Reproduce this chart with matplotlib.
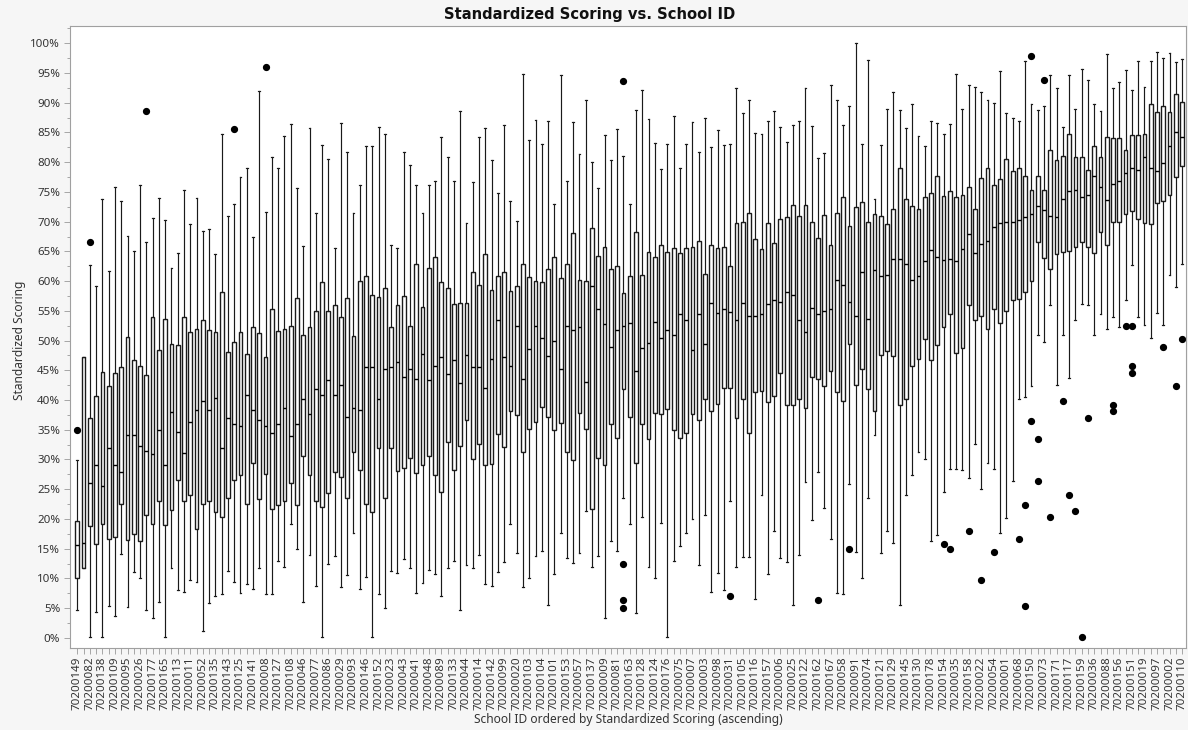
import matplotlib
matplotlib.use("Agg")
import matplotlib.pyplot as plt
from matplotlib.ticker import FuncFormatter, MultipleLocator

# ---- data (percent) ----
whisker_high = [29.9,47.2,62.7,59.1,73.8,61.7,75.9,73.5,67.6,65.1,76.1,66.5,70.6,73.9,70.3,62.2,64.7,75.3,69.6,74.0,
 68.4,68.8,64.5,84.8,71.0,73.0,77.5,79.1,67.4,92.0,71.6,80.8,79.1,84.4,86.4,75.6,65.9,85.7,71.5,82.9,
 80.5,65.6,86.6,81.7,71.5,76.1,82.8,82.8,85.9,84.8,66.1,65.6,81.7,79.6,76.1,71.5,76.1,76.9,84.3,80.8,
 76.9,88.6,69.8,76.7,84.3,85.7,80.3,74.8,86.2,73.5,70.1,94.9,83.7,87.1,83.1,86.9,73.0,94.7,76.9,86.8,
 81.4,90.4,80.1,75.7,84.6,80.3,85.6,81.1,73.0,88.7,92.2,87.2,83.3,78.8,83.1,87.7,79.1,83.1,86.8,81.7,
 87.4,82.5,85.4,82.9,83.1,92.4,88.2,90.4,84.9,84.7,86.9,88.6,85.9,83.4,86.2,86.9,92.4,86.1,80.7,81.6,
 93.0,90.4,86.2,89.4,100.0,83.1,97.2,73.8,82.9,88.9,91.8,88.7,85.7,89.8,84.4,82.8,87.0,86.6,84.8,86.4,
 94.9,88.9,92.9,92.6,91.8,90.4,89.9,95.4,88.2,87.4,87.0,97.0,89.8,88.7,89.4,94.6,92.4,85.9,94.7,88.9,
 95.7,93.8,89.7,88.6,98.2,92.4,93.4,95.5,92.2,97.0,92.7,97.0,98.5,97.5,98.3,96.9,97.3]
q3 = [19.6,47.2,37.0,40.6,44.7,42.4,44.6,45.6,50.6,46.7,45.8,44.2,53.9,48.4,53.6,49.5,49.2,53.9,51.4,51.9,
 53.4,51.7,51.4,58.2,48.0,49.7,51.4,47.8,52.2,51.2,47.3,55.3,51.6,51.9,52.5,57.1,50.9,52.2,54.9,59.9,
 54.9,55.9,54.0,57.1,50.7,60.0,60.9,57.7,57.3,58.9,52.2,55.9,57.5,52.5,62.9,55.7,62.2,64.1,59.9,58.9,
 56.1,56.3,56.3,61.5,59.3,64.5,58.5,60.9,61.5,58.3,59.2,62.9,60.7,60.1,59.9,62.0,64.0,60.5,62.9,68.1,
 60.2,60.0,69.0,64.3,65.8,62.0,62.5,58.0,60.9,68.2,61.0,64.9,64.1,66.0,64.9,65.6,64.7,65.6,65.8,66.8,
 61.2,66.0,65.5,65.8,62.5,69.8,70.0,71.5,67.0,65.4,69.8,66.4,70.4,70.8,72.8,71.0,72.8,70.0,67.3,71.2,
 66.1,71.4,74.2,69.2,72.4,73.3,70.0,71.3,71.0,69.6,72.2,79.1,73.8,72.6,72.2,74.2,74.9,77.7,74.3,75.1,
 74.2,74.5,75.8,72.2,77.4,79.1,76.1,77.1,80.5,78.5,79.1,77.6,75.3,77.6,75.3,82.1,80.3,81.1,84.8,80.9,
 80.9,78.6,82.8,80.9,84.3,84.1,84.1,82.1,84.6,84.6,84.8,89.8,88.4,89.4,88.4,91.4,90.1]
median = [15.7,16.0,26.0,29.1,25.6,31.9,29.1,27.9,34.2,34.1,32.3,31.4,30.9,35.0,29.1,38.0,34.6,31.1,36.3,38.4,
 39.9,38.3,40.4,31.9,37.0,35.9,35.7,40.8,38.3,36.6,35.7,34.4,35.9,38.7,34.0,35.9,40.1,37.6,41.9,40.9,
 43.3,40.9,42.6,37.2,38.7,38.3,45.5,45.6,40.1,45.2,45.6,46.4,43.9,45.2,43.6,47.7,43.3,45.7,47.2,44.4,
 46.7,42.9,47.6,45.5,45.5,42.1,46.9,53.5,47.2,45.8,52.5,43.5,48.5,52.5,50.4,47.4,49.9,45.2,52.4,51.8,
 52.2,43.1,59.1,55.3,52.8,49.0,51.7,52.4,53.0,44.9,48.7,49.6,53.2,50.5,51.7,50.9,54.5,53.5,48.4,54.5,
 49.4,56.3,54.7,55.3,54.8,53.4,56.3,54.2,54.2,54.5,56.1,56.9,56.5,58.2,57.7,53.4,51.4,55.5,54.5,55.0,
 55.3,60.2,59.3,56.5,54.2,61.5,53.7,61.9,60.9,61.1,63.8,63.7,62.9,60.2,60.8,63.3,65.3,64.1,63.5,63.7,
 63.3,65.4,68.0,64.7,66.3,66.8,69.1,69.8,70.0,70.0,70.3,70.8,71.3,72.6,72.0,71.0,70.8,73.8,75.1,75.3,
 74.1,74.4,77.7,75.9,73.6,76.4,76.9,78.1,79.1,78.7,80.8,79.1,78.5,79.9,82.8,85.1,84.3]
q1 = [10.0,11.7,18.9,15.8,19.1,16.7,17.0,22.6,16.5,17.5,16.3,20.6,19.1,23.0,19.0,21.5,26.6,23.0,24.0,18.3,
 22.5,23.1,21.1,20.3,23.5,26.6,27.4,22.6,29.4,23.3,27.6,21.7,22.3,23.1,26.0,22.3,30.6,27.4,23.1,22.0,
 24.3,27.9,27.1,23.6,31.2,28.3,22.6,21.1,32.0,23.5,32.0,28.1,28.6,30.3,27.8,29.1,30.6,27.4,24.5,33.0,
 28.2,32.3,36.6,30.0,32.6,29.1,29.3,34.3,32.1,38.1,37.5,31.2,35.2,36.3,38.9,37.1,34.9,36.2,31.2,29.9,
 37.9,35.2,21.7,30.2,29.1,35.9,33.6,41.9,37.2,29.4,35.9,33.4,37.9,37.7,38.5,34.9,33.6,34.4,37.7,36.7,
 40.2,38.1,39.3,42.1,42.1,36.9,40.1,34.4,41.4,41.6,39.7,40.6,44.6,39.1,39.2,40.2,38.6,43.9,43.6,42.4,
 44.9,41.4,39.9,49.4,42.6,45.2,41.9,38.1,47.6,48.2,47.4,39.1,40.1,45.7,46.9,50.2,46.7,49.2,52.2,54.4,
 47.9,48.7,55.9,53.5,54.2,52.0,55.3,53.0,55.0,56.8,57.0,58.1,60.1,66.6,63.9,62.1,64.5,64.9,65.0,65.8,
 66.6,65.8,64.7,68.3,66.0,70.0,70.0,71.3,71.8,70.5,69.8,69.6,73.2,73.4,74.5,77.5,79.3]
whisker_low = [4.7,11.7,0.2,4.4,0.2,5.4,3.6,14.1,5.2,11.0,10.0,4.7,3.4,6.1,0.2,11.7,8.0,7.7,9.7,9.4,
 1.1,5.8,7.0,7.4,11.2,9.4,7.5,9.0,8.3,11.8,7.4,7.4,13.0,12.0,19.1,15.0,6.0,14.0,8.8,0.2,
 12.4,13.8,8.5,10.6,17.7,8.3,10.2,0.2,7.4,5.0,11.3,10.9,13.3,11.7,7.5,9.2,11.5,10.8,7.0,11.8,
 13.0,4.7,12.2,11.8,13.9,9.0,8.8,11.0,12.8,19.1,14.2,8.6,10.0,13.8,14.6,5.5,10.8,17.6,13.4,12.6,
 14.2,21.3,12.0,13.8,3.3,16.3,14.6,23.5,19.1,4.2,20.3,12.0,10.0,19.3,0.2,13.0,15.5,17.6,20.0,12.2,
 20.7,7.8,10.9,8.0,23.0,12.0,13.6,13.6,6.6,24.0,10.8,17.9,13.4,12.8,5.5,14.0,26.2,19.8,27.9,21.8,
 16.6,7.6,7.4,25.9,14.5,10.0,23.6,34.2,14.2,17.9,16.0,5.5,24.1,27.4,31.2,30.0,16.3,17.3,24.6,28.4,
 28.4,28.2,26.9,32.6,25.1,29.4,28.4,17.7,20.1,26.4,40.2,40.5,42.4,51.0,49.7,55.9,42.5,50.9,43.7,53.4,
 56.2,55.9,51.0,54.4,51.9,53.9,52.2,56.9,62.7,53.9,52.6,50.4,54.6,52.6,61.1,59.0,62.9]
outlier_box = [0, 2, 11, 25, 30, 87, 87, 87, 87, 104, 118, 123, 138, 139, 142, 144, 146, 150, 151, 151,
 152, 152, 153, 153, 154, 155, 157, 158, 159, 160, 161, 165, 165, 167, 168, 168, 168, 173, 175, 176]
outlier_value = [34.9, 66.6, 88.6, 85.6, 96.0, 93.7, 12.4, 6.4, 5.0, 7.0, 6.3, 15.0, 15.8, 15.0, 17.9, 9.7, 14.5, 16.6, 22.3, 5.3,
 97.9, 36.5, 33.4, 26.4, 93.8, 20.3, 39.9, 24.0, 21.3, 0.2, 36.9, 39.2, 38.1, 52.5, 52.5, 45.8, 44.6, 49.0, 42.4, 50.2]
school_labels = ["70200149","70200082","70200138","70200109","70200095","70200026","70200177","70200165","70200113","70200011",
 "70200052","70200135","70200143","70200125","70200141","70200008","70200127","70200108","70200046","70200077",
 "70200086","70200029","70200093","70200146","70200152","70200023","70200043","70200041","70200048","70200089",
 "70200133","70200044","70200014","70200142","70200099","70200020","70200103","70200104","70200101","70200153",
 "70200057","70200137","70200009","70200081","70200163","70200128","70200124","70200176","70200075","70200007",
 "70200003","70200098","70200031","70200105","70200116","70200157","70200006","70200025","70200122","70200162",
 "70200167","70200058","70200091","70200074","70200121","70200129","70200145","70200130","70200178","70200154",
 "70200035","70200158","70200022","70200054","70200001","70200068","70200150","70200073","70200171","70200117",
 "70200159","70200036","70200088","70200156","70200151","70200019","70200097","70200002","70200110"]

n = len(median)
stats = []
for i in range(n):
    fl = [v for b, v in zip(outlier_box, outlier_value) if b == i]
    stats.append(dict(med=median[i], q1=q1[i], q3=q3[i],
                      whislo=whisker_low[i], whishi=whisker_high[i], fliers=fl))

plt.rcParams['font.family'] = ['Noto Sans', 'DejaVu Sans']
fig = plt.figure(figsize=(11.88, 7.30), dpi=100, facecolor='#f6f6f6')
ax = fig.add_axes([70/1188, 1-648/730, 1116/1188, 622/730])
ax.set_facecolor('white')

pos = list(range(n))
ax.bxp(stats, positions=pos, widths=0.6, capwidths=0.3, patch_artist=True,
       boxprops=dict(facecolor='white', edgecolor='#1a1a1a', linewidth=1.0),
       whiskerprops=dict(color='#1a1a1a', linewidth=0.85),
       capprops=dict(color='#1a1a1a', linewidth=0.85),
       medianprops=dict(color='black', linewidth=1.0),
       flierprops=dict(marker='o', markerfacecolor='black', markeredgecolor='black',
                       markersize=4.2, linestyle='none'))

ax.set_xlim(-1.16, 176.62)
ax.set_ylim(-1.7, 102.9)
ax.yaxis.set_major_locator(MultipleLocator(5))
ax.yaxis.set_minor_locator(MultipleLocator(2.5))
ax.yaxis.set_major_formatter(FuncFormatter(lambda v, p: f"{v:.0f}%"))

ax.set_xticks(pos)
xl = [''] * n
for k, lab in enumerate(school_labels):
    xl[2 * k] = lab
ax.set_xticklabels(xl, rotation=90, fontsize=8.3, color='#333333')
ax.tick_params(axis='x', length=4, width=0.6, color='#999999', pad=2)
ax.tick_params(axis='y', which='major', length=4, width=0.6, color='#999999', labelsize=8.3, labelcolor='#333333', pad=3)
ax.tick_params(axis='y', which='minor', length=2.5, width=0.6, color='#999999')
for s in ax.spines.values():
    s.set_color('#a0a0a0')
    s.set_linewidth(0.8)

fig.text(590/1188, 1-14/730, "Standardized Scoring vs. School ID", ha='center', va='center',
         fontsize=10.6, fontweight='bold', family='DejaVu Sans', color='#111111')
fig.text(628/1188, 1-719/730, "School ID ordered by Standardized Scoring (ascending)", ha='center', va='center',
         fontsize=8.6, color='#333333')
fig.text(20/1188, 1-340/730, "Standardized Scoring", ha='center', va='center', rotation=90,
         fontsize=8.6, color='#333333')

fig.savefig("out.png", dpi=100, facecolor=fig.get_facecolor())
